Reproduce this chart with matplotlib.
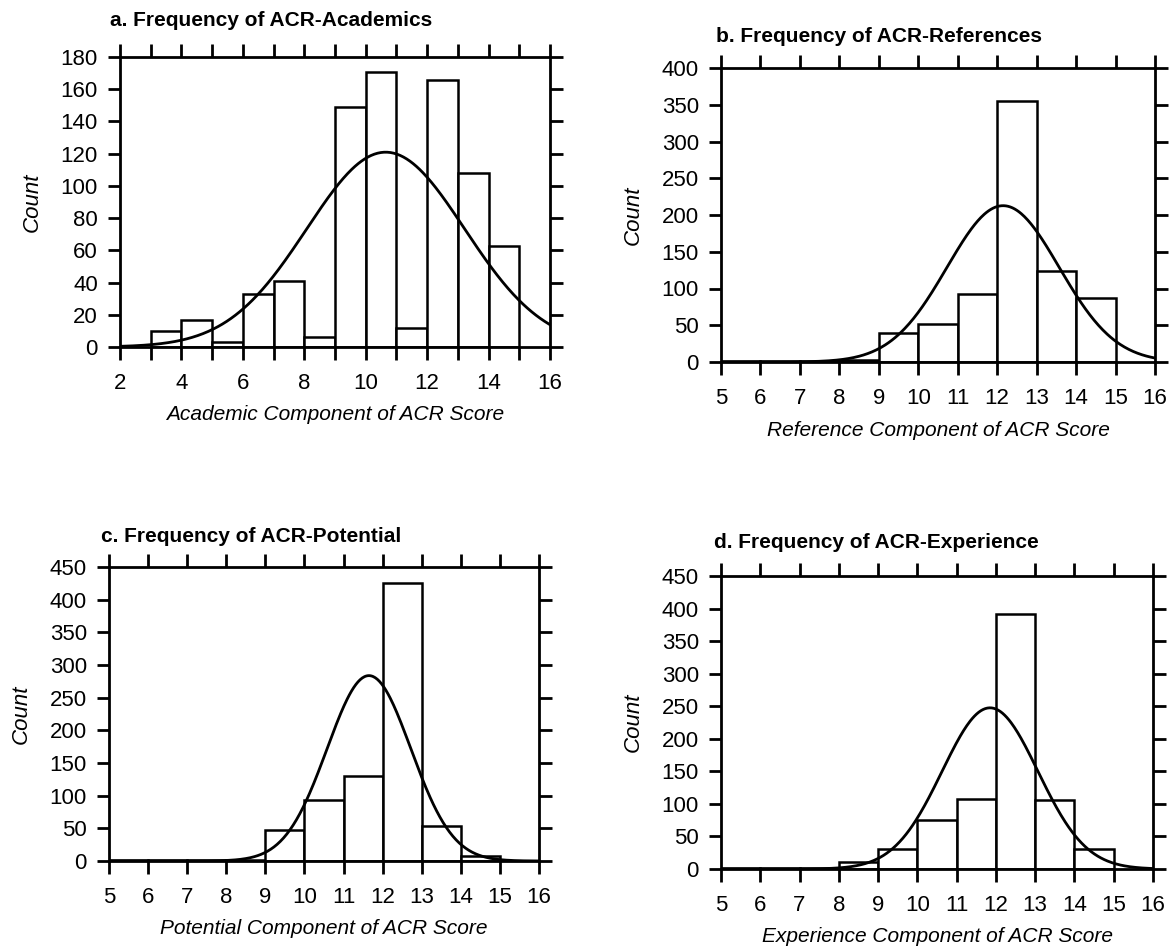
import numpy as np
import matplotlib
matplotlib.use("Agg")
import matplotlib.pyplot as plt

plt.rcParams['font.family'] = ['Liberation Sans', 'DejaVu Sans']

# ---- data: histogram counts per unit-wide bin (left edges) ----
acad_edges = [3, 4, 5, 6, 7, 8, 9, 10, 11, 12, 13, 14]
acad_counts = [10, 17, 3, 33, 41, 6, 149, 171, 12, 166, 108, 63]
acad_mean, acad_sd = 10.65, 2.57

ref_edges = [5, 6, 7, 8, 9, 10, 11, 12, 13, 14]
ref_counts = [1, 1, 2, 3, 40, 52, 92, 355, 124, 87]
ref_mean, ref_sd = 12.15, 1.42

pot_edges = [5, 6, 7, 8, 9, 10, 11, 12, 13, 14]
pot_counts = [1, 1, 1, 2, 47, 93, 130, 425, 53, 8]
pot_mean, pot_sd = 11.65, 1.07

exp_edges = [5, 6, 7, 8, 9, 10, 11, 12, 13, 14]
exp_counts = [1, 1, 1, 10, 31, 76, 108, 392, 106, 31]
exp_mean, exp_sd = 11.85, 1.22

# panel placement in pixels: [left, top, right, bottom]
panels = [
    dict(edges=acad_edges, counts=acad_counts, mean=acad_mean, sd=acad_sd,
         title="a. Frequency of ACR-Academics",
         xlabel="Academic Component of ACR Score",
         xlim=(2, 16), ylim=(0, 180), ystep=20, xlabels=range(2, 17, 2),
         rect=[120, 57, 550, 347], title_xy=(110, 20), xlabel_y=415),
    dict(edges=ref_edges, counts=ref_counts, mean=ref_mean, sd=ref_sd,
         title="b. Frequency of ACR-References",
         xlabel="Reference Component of ACR Score",
         xlim=(5, 16), ylim=(0, 400), ystep=50, xlabels=range(5, 17),
         rect=[721, 68, 1155, 362], title_xy=(716, 36), xlabel_y=430),
    dict(edges=pot_edges, counts=pot_counts, mean=pot_mean, sd=pot_sd,
         title="c. Frequency of ACR-Potential",
         xlabel="Potential Component of ACR Score",
         xlim=(5, 16), ylim=(0, 450), ystep=50, xlabels=range(5, 17),
         rect=[109, 567, 539, 861], title_xy=(101, 536), xlabel_y=929),
    dict(edges=exp_edges, counts=exp_counts, mean=exp_mean, sd=exp_sd,
         title="d. Frequency of ACR-Experience",
         xlabel="Experience Component of ACR Score",
         xlim=(5, 16), ylim=(0, 450), ystep=50, xlabels=range(5, 17),
         rect=[721, 576, 1153, 869], title_xy=(714, 543), xlabel_y=937),
]

W, H = 1176, 948
fig = plt.figure(figsize=(W / 100, H / 100), dpi=100)

for p in panels:
    x0, y0, x1, y1 = p["rect"]
    ax = fig.add_axes([x0 / W, 1 - y1 / H, (x1 - x0) / W, (y1 - y0) / H])

    # bars
    ax.bar(p["edges"], p["counts"], width=1.0, align="edge",
           facecolor="white", edgecolor="black", linewidth=1.8, zorder=2)

    # fitted normal curve scaled to counts
    n = sum(p["counts"])
    xs = np.linspace(p["xlim"][0], p["xlim"][1], 400)
    ys = n * np.exp(-0.5 * ((xs - p["mean"]) / p["sd"]) ** 2) / (p["sd"] * np.sqrt(2 * np.pi))
    ax.plot(xs, ys, color="black", linewidth=2.0, zorder=3)

    ax.set_xlim(*p["xlim"])
    ax.set_ylim(*p["ylim"])
    xt = list(range(p["xlim"][0], p["xlim"][1] + 1))
    ax.set_xticks(xt)
    ax.set_xticklabels([str(v) if v in p["xlabels"] else "" for v in xt])
    ax.set_yticks(np.arange(0, p["ylim"][1] + 1, p["ystep"]))

    for s in ax.spines.values():
        s.set_linewidth(2.0)
    ax.tick_params(axis="x", which="both", direction="out", length=9.5, width=2.0,
                   top=True, labeltop=False, labelsize=16, pad=9)
    ax.tick_params(axis="y", which="both", direction="out", length=9, width=2.0,
                   right=True, labelright=False, labelsize=16, pad=7)

    ax.set_ylabel("Count", fontsize=16, style="italic")
    ax.yaxis.set_label_coords(-77 / (x1 - x0), 0.5)
    fig.text((x0 + x1) / 2 / W, 1 - p["xlabel_y"] / H, p["xlabel"],
             fontsize=15, style="italic", ha="center", va="center")
    fig.text(p["title_xy"][0] / W, 1 - p["title_xy"][1] / H, p["title"],
             fontsize=15, fontweight="bold", ha="left", va="center")

fig.savefig("out.png", dpi=100, facecolor="white")
